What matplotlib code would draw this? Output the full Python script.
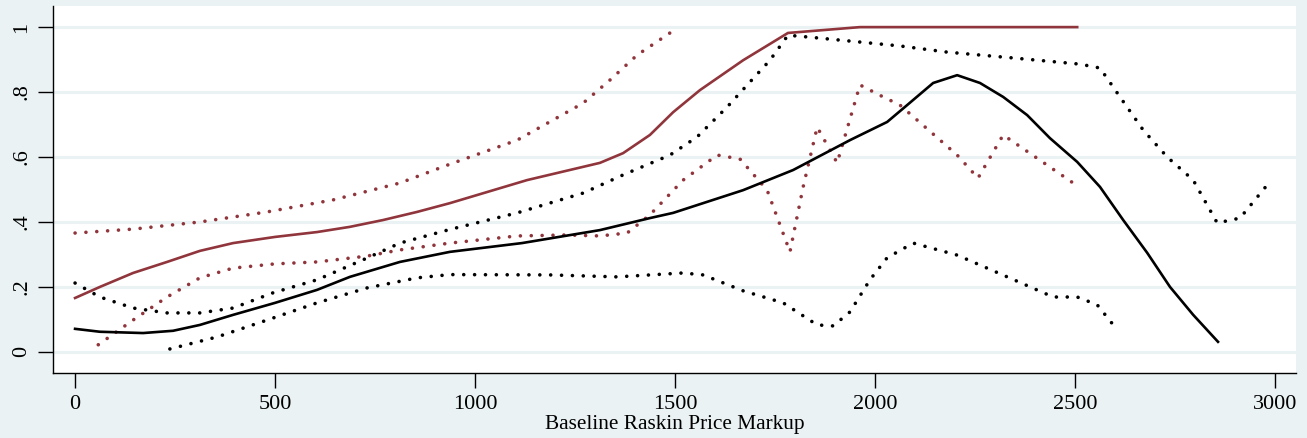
import matplotlib
matplotlib.use("Agg")
import matplotlib.pyplot as plt

plt.rcParams['font.family'] = ['Liberation Serif', 'DejaVu Serif']

# black: fitted curve and its band
blk_x = [0, 62, 170, 245, 312, 395, 500, 605, 687, 812, 937, 1117, 1312, 1437, 1495,
         1670, 1795, 1937, 2030, 2080, 2145, 2205, 2262, 2320, 2380, 2437, 2505, 2562,
         2620, 2680, 2737, 2795, 2857]
blk_y = [0.071, 0.062, 0.058, 0.065, 0.083, 0.114, 0.151, 0.191, 0.231, 0.277, 0.308,
         0.335, 0.375, 0.412, 0.428, 0.498, 0.560, 0.652, 0.708, 0.760, 0.828, 0.852,
         0.828, 0.785, 0.729, 0.658, 0.585, 0.508, 0.406, 0.305, 0.200, 0.114, 0.031]

blk_hi_x = [0, 62, 145, 230, 312, 395, 495, 605, 730, 812, 937, 1105, 1270, 1370, 1487,
            1555, 1630, 1687, 1737, 1782, 1837, 1962, 2062, 2180, 2345, 2512, 2562, 2612,
            2670, 2730, 2795, 2855, 2912, 2980]
blk_hi_y = [0.212, 0.169, 0.135, 0.120, 0.120, 0.135, 0.182, 0.222, 0.289, 0.335, 0.377,
            0.428, 0.489, 0.545, 0.606, 0.662, 0.754, 0.831, 0.898, 0.975, 0.969, 0.954,
            0.942, 0.923, 0.905, 0.886, 0.874, 0.785, 0.683, 0.600, 0.529, 0.397, 0.412,
            0.514]

blk_lo_x = [237, 355, 480, 605, 730, 855, 937, 1187, 1355, 1520, 1570, 1670, 1770, 1855,
            1895, 1937, 1987, 2030, 2095, 2205, 2330, 2445, 2505, 2555, 2605]
blk_lo_y = [0.009, 0.046, 0.098, 0.151, 0.197, 0.228, 0.238, 0.237, 0.231, 0.243, 0.237,
            0.188, 0.151, 0.083, 0.080, 0.123, 0.222, 0.290, 0.335, 0.298, 0.231, 0.169,
            0.169, 0.145, 0.068]

# red: second fitted curve and its band
red_x = [0, 62, 145, 230, 312, 395, 500, 605, 687, 770, 855, 937, 1130, 1312, 1370,
         1437, 1495, 1562, 1670, 1782, 1962, 2062, 2505]
red_y = [0.166, 0.200, 0.243, 0.277, 0.311, 0.335, 0.354, 0.369, 0.385, 0.406, 0.431,
         0.458, 0.529, 0.582, 0.612, 0.668, 0.738, 0.806, 0.898, 0.982, 1.0, 1.0, 1.0]

red_hi_x = [0, 145, 312, 480, 645, 812, 937, 1105, 1270, 1337, 1405, 1487]
red_hi_y = [0.366, 0.378, 0.400, 0.431, 0.468, 0.520, 0.578, 0.652, 0.766, 0.837, 0.914,
            0.982]

red_lo_x = [58, 145, 230, 312, 395, 500, 605, 730, 812, 937, 1105, 1230, 1312, 1380,
            1437, 1520, 1605, 1662, 1730, 1787, 1820, 1855, 1905, 1962, 2012, 2062,
            2205, 2257, 2320, 2495]
red_lo_y = [0.022, 0.098, 0.169, 0.228, 0.258, 0.271, 0.277, 0.295, 0.314, 0.335, 0.357,
            0.360, 0.357, 0.366, 0.422, 0.529, 0.606, 0.594, 0.498, 0.308, 0.508, 0.692,
            0.582, 0.822, 0.790, 0.760, 0.606, 0.535, 0.668, 0.520]

xticks = [0, 500, 1000, 1500, 2000, 2500, 3000]
yticks = [0, 0.2, 0.4, 0.6, 0.8, 1]
ytick_labels = ["0", ".2", ".4", ".6", ".8", "1"]

bg = "#eaf2f3"
red = "#90353b"

fig = plt.figure(figsize=(13.07, 4.38), dpi=100, facecolor=bg)
ax = fig.add_axes([0.0406, 0.1484, 0.951, 0.8379])
ax.set_facecolor("white")

for y in yticks:
    ax.axhline(y, color=bg, lw=2.2, zorder=0)

# round dots, about 3px wide, 10-11px apart
dot = dict(ls=(0, (0.01, 3.0)), lw=2.6, dash_capstyle="round")
ax.plot(red_hi_x, red_hi_y, color=red, **dot)
ax.plot(red_lo_x, red_lo_y, color=red, **dot)
ax.plot(blk_hi_x, blk_hi_y, color="black", **dot)
ax.plot(blk_lo_x, blk_lo_y, color="black", **dot)
ax.plot(red_x, red_y, color=red, lw=1.9)
ax.plot(blk_x, blk_y, color="black", lw=1.9)

ax.set_xlim(-55, 3052)
ax.set_ylim(-0.065, 1.065)
ax.set_xticks(xticks)
ax.set_xticklabels([str(t) for t in xticks])
ax.set_yticks(yticks)
ax.set_yticklabels(ytick_labels, rotation=90, va="center")
ax.tick_params(axis="both", direction="out", length=10.5, width=1.0, labelsize=16,
               pad=5)
for s in ["top", "right"]:
    ax.spines[s].set_visible(False)
for s in ["left", "bottom"]:
    ax.spines[s].set_linewidth(1.0)

ax.set_xlabel("Baseline Raskin Price Markup", fontsize=15.3, labelpad=1)

fig.savefig("out.png", dpi=100, facecolor=bg)
